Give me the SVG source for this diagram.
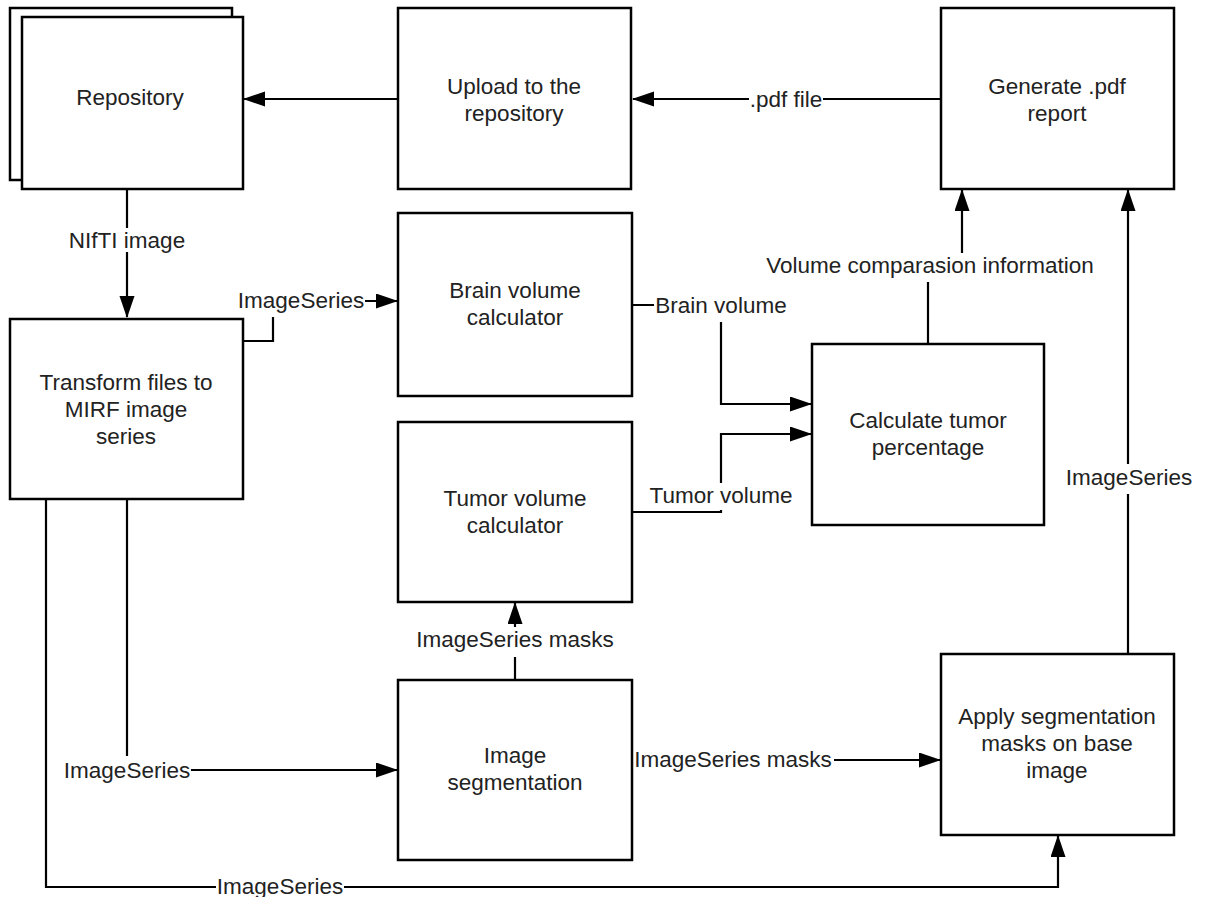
<svg xmlns="http://www.w3.org/2000/svg" width="1210" height="897" viewBox="0 0 1210 897">
<style>
.box{fill:#fff;stroke:#000;stroke-width:2.5}
.t{font-family:"Liberation Sans",Arial,sans-serif;font-size:22.5px;fill:#222;text-anchor:middle;dominant-baseline:central}
.c{fill:none;stroke:#000;stroke-width:2.2}
.bg{fill:#fff}
</style>
<defs>
<marker id="ah" markerUnits="userSpaceOnUse" markerWidth="22" markerHeight="16" refX="21" refY="7.5" orient="auto">
<path d="M0,0 L22,7.5 L0,15 z" fill="#000"/>
</marker>
</defs>
<rect width="1210" height="897" fill="#fff"/>

<g id="connectors">
<path class="c" d="M398,99 H244" marker-end="url(#ah)"/>
<path class="c" d="M940,99 H633" marker-end="url(#ah)"/>
<path class="c" d="M127,189 V317" marker-end="url(#ah)"/>
<path class="c" d="M243,341 H273 V301 H397" marker-end="url(#ah)"/>
<path class="c" d="M632,305 H721 V404 H811" marker-end="url(#ah)"/>
<path class="c" d="M632,512 H721 V434 H811" marker-end="url(#ah)"/>
<path class="c" d="M928,344 V265 H962 V190" marker-end="url(#ah)"/>
<path class="c" d="M127,499 V770 H397" marker-end="url(#ah)"/>
<path class="c" d="M46,499 V887 H1058 V836" marker-end="url(#ah)"/>
<path class="c" d="M515,680 V603" marker-end="url(#ah)"/>
<path class="c" d="M632,760 H940" marker-end="url(#ah)"/>
<path class="c" d="M1128,654 V190" marker-end="url(#ah)"/>

<rect class="bg" x="749" y="87" width="74" height="24"/>
<text class="t" x="786" y="99">.pdf file</text>
<rect class="bg" x="68" y="228" width="118" height="24"/>
<text class="t" x="127" y="240">NIfTI image</text>
<rect class="bg" x="237" y="288" width="128" height="29"/>
<text class="t" x="301" y="300">ImageSeries</text>
<rect class="bg" x="654" y="293" width="134" height="29"/>
<text class="t" x="721" y="305">Brain volume</text>
<rect class="bg" x="648" y="483" width="146" height="27"/>
<text class="t" x="721" y="495">Tumor volume</text>
<rect class="bg" x="764" y="253" width="332" height="29"/>
<text class="t" x="930" y="265">Volume comparasion information</text>
<rect class="bg" x="63" y="756" width="128" height="26"/>
<text class="t" x="127" y="770">ImageSeries</text>
<rect class="bg" x="216" y="875" width="128" height="24"/>
<text class="t" x="280" y="886">ImageSeries</text>
<rect class="bg" x="415" y="627" width="200" height="30"/>
<text class="t" x="515" y="639">ImageSeries masks</text>
<rect class="bg" x="633" y="748" width="201" height="24"/>
<text class="t" x="733" y="759">ImageSeries masks</text>
<rect class="bg" x="1065" y="464" width="128" height="30"/>
<text class="t" x="1129" y="477">ImageSeries</text>
</g>

<g id="repository">
<rect class="box" x="10" y="8" width="222" height="172"/>
<rect class="box" x="22" y="17" width="221" height="172"/>
<text class="t" x="130" y="97">Repository</text>
</g>
<g id="upload">
<rect class="box" x="398" y="8" width="233" height="181"/>
<text class="t" x="514" y="86">Upload to the</text>
<text class="t" x="514" y="113">repository</text>
</g>
<g id="generate">
<rect class="box" x="941" y="8" width="233" height="181"/>
<text class="t" x="1057" y="86">Generate .pdf</text>
<text class="t" x="1057" y="113">report</text>
</g>
<g id="transform">
<rect class="box" x="10" y="319" width="233" height="180"/>
<text class="t" x="126" y="382">Transform files to</text>
<text class="t" x="126" y="409">MIRF image</text>
<text class="t" x="126" y="436">series</text>
</g>
<g id="brain">
<rect class="box" x="398" y="213" width="234" height="183"/>
<text class="t" x="515" y="290">Brain volume</text>
<text class="t" x="515" y="317">calculator</text>
</g>
<g id="tumor">
<rect class="box" x="398" y="422" width="234" height="180"/>
<text class="t" x="515" y="498">Tumor volume</text>
<text class="t" x="515" y="525">calculator</text>
</g>
<g id="calculate">
<rect class="box" x="812" y="344" width="232" height="181"/>
<text class="t" x="928" y="420">Calculate tumor</text>
<text class="t" x="928" y="447">percentage</text>
</g>
<g id="segmentation">
<rect class="box" x="398" y="680" width="234" height="180"/>
<text class="t" x="515" y="755">Image</text>
<text class="t" x="515" y="782">segmentation</text>
</g>
<g id="apply">
<rect class="box" x="941" y="654" width="233" height="181"/>
<text class="t" x="1057" y="716">Apply segmentation</text>
<text class="t" x="1057" y="743">masks on base</text>
<text class="t" x="1057" y="770">image</text>
</g>
</svg>
